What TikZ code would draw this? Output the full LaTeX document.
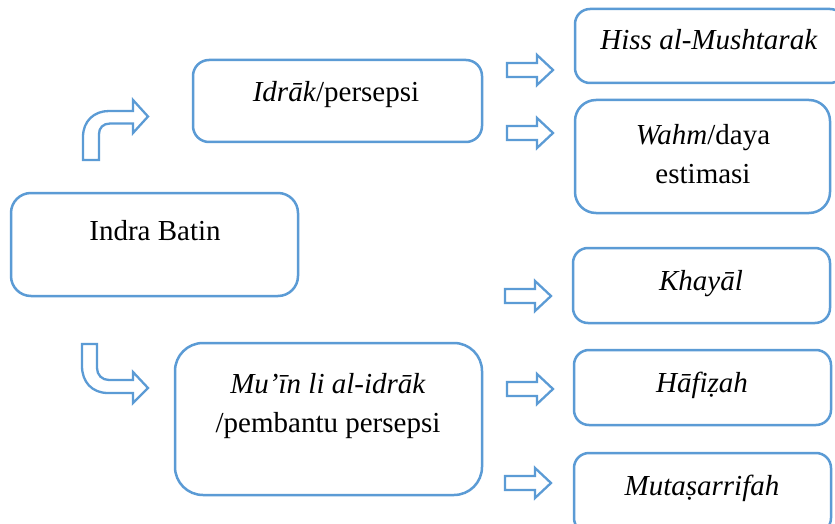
\documentclass[tikz,border=0pt]{standalone}
\usepackage{fontspec}
\setmainfont{Liberation Serif}
\definecolor{wordblue}{HTML}{5B9BD5}
\begin{document}
\begin{tikzpicture}[x=1pt,y=-1pt,
  boxshape/.style={draw=wordblue, line width=2.5pt, fill=white, inner sep=0pt},
  lbl/.style={anchor=base, inner sep=0pt, font=\fontsize{29}{38.5}\selectfont, align=center},
  blockarrow/.style={draw=wordblue, line width=2.3pt, fill=white, line join=miter},
  rarr/.pic={\draw[blockarrow] (0,-7) -- (30,-7) -- (30,-15) -- (46,0) -- (30,15) -- (30,7) -- (0,7) -- cycle;}
]
\clip (0,0) rectangle (835,524);
\fill[white] (0,0) rectangle (835,524);

% boxes
\node[boxshape, rounded corners=20pt, minimum width=287pt, minimum height=103pt] (indra) at (154.5,244.5) {};
\node[boxshape, rounded corners=16pt, minimum width=289pt, minimum height=82pt] (idrak) at (337.5,101) {};
\node[boxshape, rounded corners=28pt, minimum width=307pt, minimum height=152pt] (muin) at (328.5,419) {};
\node[boxshape, rounded corners=15pt, minimum width=270pt, minimum height=74pt] (hiss) at (710,46) {};
\node[boxshape, rounded corners=21pt, minimum width=255pt, minimum height=113pt] (wahm) at (702.5,156.5) {};
\node[boxshape, rounded corners=15pt, minimum width=257pt, minimum height=75pt] (khayal) at (701.5,285.5) {};
\node[boxshape, rounded corners=15pt, minimum width=257pt, minimum height=75pt] (hafizah) at (702.5,387.5) {};
\node[boxshape, rounded corners=15pt, minimum width=257pt, minimum height=80pt] (mutasarrifah) at (702.5,493) {};

% texts (multi-line: base anchor is the last line's baseline)
\node[lbl] (tindra) at (155,240) {Indra Batin};
\node[lbl] (tidrak) at (336,102) {\textit{Idrāk}/persepsi};
\node[lbl] (tmuin) at (328,432) {\textit{Mu’īn li al-idrāk}\\/pembantu persepsi};
\node[lbl] (thiss) at (709,50) {\textit{Hiss al-Mushtarak}};
\node[lbl] (twahm) at (703,183) {\textit{Wahm}/daya\\estimasi};
\node[lbl] (tkhayal) at (701,290) {\textit{Khayāl}};
\node[lbl] (thafizah) at (702,392) {\textit{Hāfiẓah}};
\node[lbl] (tmutasarrifah) at (702,495) {\textit{Mutaṣarrifah}};

% bent arrows
\draw[blockarrow] (83,160) -- (83,137) .. controls (83,121) and (94,111) .. (109,111)
  -- (133,111) -- (133,100) -- (148,116.5) -- (133,133) -- (133,123.5) -- (110,123.5)
  .. controls (103,123.5) and (99,128) .. (99,134) -- (99,160) -- cycle;
\draw[blockarrow] (82,344) -- (82,366) .. controls (82,382) and (92,393) .. (108,393)
  -- (133,393) -- (133,403) -- (148,388) -- (133,372) -- (133,380) -- (109,380)
  .. controls (102,380) and (97,375) .. (97,368) -- (97,344) -- cycle;

% small arrows
\pic at (507,70) {rarr};
\pic at (507,133) {rarr};
\pic at (505,296) {rarr};
\pic at (507,389) {rarr};
\pic at (505,483) {rarr};
\end{tikzpicture}
\end{document}
